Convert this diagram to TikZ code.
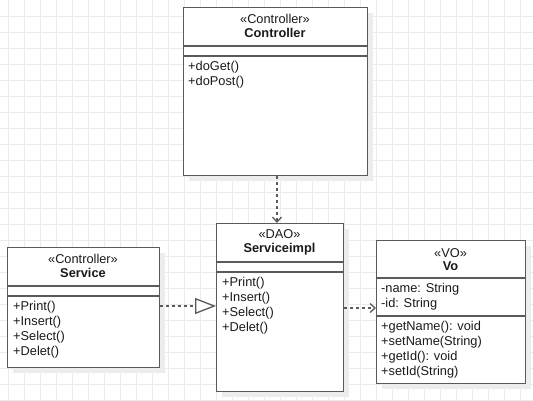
\documentclass[tikz,border=0pt]{standalone}
\usepackage{fontspec}
\setmainfont{Liberation Sans}
\usetikzlibrary{arrows.meta,shadows}
\definecolor{linec}{HTML}{5A5A5A}
\definecolor{gridc}{HTML}{EBEBEB}
\definecolor{shadc}{HTML}{EDEDED}
\definecolor{txtc}{HTML}{1A1A1A}
\begin{document}
\begin{tikzpicture}[x=1pt,y=-1pt,
  cls/.style={draw=linec, line width=1.3pt, fill=white, anchor=north west, inner sep=0pt,
    drop shadow={shadow xshift=5pt, shadow yshift=-5pt, fill=shadc, opacity=1}},
  div/.style={draw=linec, line width=1.3pt},
  txt/.style={font=\fontsize{12.8}{15}\selectfont, text=txtc, inner sep=0pt},
  lt/.style={txt, anchor=west},
  ct/.style={txt, anchor=center},
  bt/.style={txt, anchor=center, font=\fontsize{12.8}{15}\selectfont\bfseries},
  dep/.style={draw=linec, line width=1.3pt, dash pattern=on 3pt off 3pt, -{Straight Barb[length=5pt,width=9pt]}},
  real/.style={draw=linec, line width=1.3pt, dash pattern=on 3pt off 3pt, -{Triangle[open, length=21pt, width=16pt, fill=white]}}
]
\useasboundingbox (0,0) rectangle (533,400);
\fill[white] (0,0) rectangle (533,400);
% grid
\foreach \gx in {8,24,...,520} \draw[gridc, line width=1pt] (\gx,0) -- (\gx,400);
\foreach \gy in {16,32,...,400} \draw[gridc, line width=1pt] (0,\gy) -- (533,\gy);

% Controller
\node[cls, minimum width=184pt, minimum height=168pt] (ctrl) at (183,7) {};
\draw[div] (ctrl.west |- 0,46) -- (ctrl.east |- 0,46);
\draw[div] (ctrl.west |- 0,56) -- (ctrl.east |- 0,56);
\node[ct] (ctrlst) at (275,19) {«Controller»};
\node[bt] (ctrlnm) at (275,33) {Controller};
\node[lt] (ctrlm1) at (188,67) {+doGet()};
\node[lt] (ctrlm2) at (188,82) {+doPost()};

% Service
\node[cls, minimum width=152pt, minimum height=120pt] (svc) at (7,247) {};
\draw[div] (svc.west |- 0,286) -- (svc.east |- 0,286);
\draw[div] (svc.west |- 0,296) -- (svc.east |- 0,296);
\node[ct] (svcst) at (83,259) {«Controller»};
\node[bt] (svcnm) at (83,273) {Service};
\node[lt] (svcm1) at (13,307) {+Print()};
\node[lt] (svcm2) at (13,322) {+Insert()};
\node[lt] (svcm3) at (13,337) {+Select()};
\node[lt] (svcm4) at (13,352) {+Delet()};

% Serviceimpl
\node[cls, minimum width=127pt, minimum height=168pt] (simpl) at (216,223) {};
\draw[div] (simpl.west |- 0,262) -- (simpl.east |- 0,262);
\draw[div] (simpl.west |- 0,272) -- (simpl.east |- 0,272);
\node[ct] (simplst) at (279.5,234) {«DAO»};
\node[bt] (simplnm) at (279.5,249) {Serviceimpl};
\node[lt] (simplm1) at (222,283) {+Print()};
\node[lt] (simplm2) at (222,298) {+Insert()};
\node[lt] (simplm3) at (222,313) {+Select()};
\node[lt] (simplm4) at (222,328) {+Delet()};

% Vo
\node[cls, minimum width=149pt, minimum height=143pt] (vo) at (376,240) {};
\draw[div] (vo.west |- 0,278) -- (vo.east |- 0,278);
\draw[div] (vo.west |- 0,316) -- (vo.east |- 0,316);
\node[ct] (vost) at (450.5,253) {«VO»};
\node[bt] (vonm) at (450.5,266) {Vo};
\node[lt] (voa1) at (381,289) {-name: String};
\node[lt] (voa2) at (381,304) {-id: String};
\node[lt] (vom1) at (381,327) {+getName(): void};
\node[lt] (vom2) at (381,342) {+setName(String)};
\node[lt] (vom3) at (381,357) {+getId(): void};
\node[lt] (vom4) at (381,372) {+setId(String)};

% connectors
\coordinate (ax) at (277,0);
\coordinate (ay1) at (0,306);
\coordinate (ay2) at (0,308);
\draw[dep] (ctrl.south -| ax) -- (simpl.north -| ax);
\draw[real] (svc.east |- ay1) -- (simpl.west |- ay1);
\draw[dep] (simpl.east |- ay2) -- (vo.west |- ay2);
\end{tikzpicture}
\end{document}
